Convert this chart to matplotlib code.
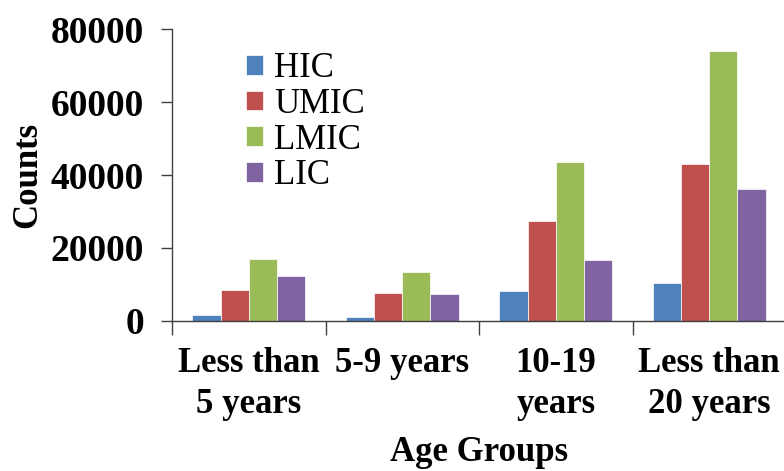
import numpy as np
import matplotlib
matplotlib.use("Agg")
import matplotlib.pyplot as plt

plt.rcParams['font.family'] = ['Liberation Serif', 'DejaVu Serif']

# counts per age group and income class
age_groups = ["Less than\n5 years", "5-9 years", "10-19\nyears", "Less than\n20 years"]
income_classes = ["HIC", "UMIC", "LMIC", "LIC"]
hic = [1500, 900, 8100, 10300]
umic = [8400, 7600, 27300, 43000]
lmic = [17000, 13500, 43600, 74200]
lic = [12300, 7300, 16600, 36200]
colors = ["#4F81BD", "#C0504D", "#9BBB59", "#8064A2"]

series = [hic, umic, lmic, lic]

fig = plt.figure(figsize=(7.84, 4.71), dpi=100)
ax = fig.add_axes([172 / 784, 150.3 / 471, 614 / 784, 0.6183])

n = len(age_groups)
centers = np.arange(n) + 0.5
width = 0.184
for k, (vals, name, col) in enumerate(zip(series, income_classes, colors)):
    offs = (k - 1.5) * width
    ax.bar(centers + offs, vals, width=width, color=col, label=name,
           edgecolor="white", linewidth=0.5)

ax.set_xlim(0, n)
ax.set_ylim(0, 80000)
ax.set_yticks(np.arange(0, 80001, 20000))

# tick marks sit between groups, labels at group centres
ax.set_xticks(np.arange(0, n + 1))
ax.set_xticklabels([])
ax.set_xticks(centers, minor=True)
ax.set_xticklabels(age_groups, minor=True, fontsize=25, fontweight="bold",
                   linespacing=1.32)
ax.tick_params(axis="x", which="minor", length=0, pad=19)
ax.tick_params(axis="x", which="major", length=10, width=1, color="#404040",
               direction="out")
ax.tick_params(axis="y", length=8, width=1, color="#404040", pad=12,
               labelsize=27)
for lbl in ax.get_yticklabels():
    lbl.set_fontweight("bold")

for side in ("top", "right"):
    ax.spines[side].set_visible(False)
for side in ("left", "bottom"):
    ax.spines[side].set_color("#404040")
    ax.spines[side].set_linewidth(1)

ax.set_ylabel("Counts", fontsize=25, fontweight="bold", labelpad=5)
ax.set_xlabel("Age Groups", fontsize=25, fontweight="bold", labelpad=11)

fig.legend(loc="upper left", bbox_to_anchor=(246 / 784, 1 - 52 / 471),
           frameon=False, fontsize=25, handlelength=0.5, handleheight=0.5,
           handletextpad=0.3, labelspacing=0.08, borderpad=0, borderaxespad=0)

fig.savefig("out.png", dpi=100)
